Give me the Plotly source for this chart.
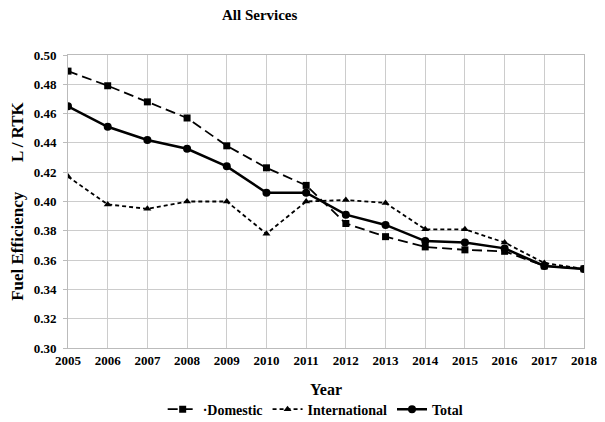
import plotly.graph_objects as go

years = [2005, 2006, 2007, 2008, 2009, 2010, 2011, 2012, 2013, 2014, 2015, 2016, 2017, 2018]
domestic = [0.489, 0.479, 0.468, 0.457, 0.438, 0.423, 0.411, 0.385, 0.376, 0.369, 0.367, 0.366, 0.356, 0.354]
international = [0.417, 0.398, 0.395, 0.400, 0.400, 0.378, 0.400, 0.401, 0.399, 0.381, 0.381, 0.372, 0.358, 0.354]
total = [0.465, 0.451, 0.442, 0.436, 0.424, 0.406, 0.406, 0.391, 0.384, 0.373, 0.372, 0.368, 0.356, 0.354]
y_ticks = [0.30, 0.32, 0.34, 0.36, 0.38, 0.40, 0.42, 0.44, 0.46, 0.48, 0.50]

FONT = "Liberation Serif"

fig = go.Figure()
fig.add_trace(go.Scatter(x=years, y=domestic, name="<b>·Domestic</b>", mode="lines+markers",
                         line=dict(color="black", width=1.8, dash="10px,5px"),
                         marker=dict(symbol="square", size=7, color="black")))
fig.add_trace(go.Scatter(x=years, y=international, name="<b>International</b>", mode="lines+markers",
                         line=dict(color="black", width=1.8, dash="4px,3px"),
                         marker=dict(symbol="triangle-up", size=7, color="black")))
fig.add_trace(go.Scatter(x=years, y=total, name="<b>Total</b>", mode="lines+markers",
                         line=dict(color="black", width=2.5),
                         marker=dict(symbol="circle", size=8, color="black")))

# page has an 8px body margin, so the figure is sized/offset to compensate
fig.update_layout(
    width=605, height=414,
    margin=dict(l=60, r=29, t=47, b=74, autoexpand=False),
    paper_bgcolor="white", plot_bgcolor="white",
    font=dict(family=FONT, color="black", size=13),
    title=dict(text="<b>All Services</b>", x=0.416, xanchor="center", y=0.983, yanchor="middle",
               font=dict(family=FONT, size=15, color="black")),
    xaxis=dict(range=[2005, 2018], tickmode="array", tickvals=years,
               ticktext=[f"<b>{y}</b>" for y in years],
               showgrid=True, gridcolor="#cccccc", gridwidth=1, automargin=False,
               showline=True, linecolor="#bbbbbb", mirror=True, zeroline=False,
               ticks="", tickfont=dict(family=FONT, size=13),
               title=dict(text="<b>Year</b>", font=dict(family=FONT, size=16), standoff=17)),
    yaxis=dict(range=[0.30, 0.50], tickmode="array", tickvals=y_ticks,
               ticktext=[f"<b>{v:.2f}</b>" for v in y_ticks],
               showgrid=True, gridcolor="#cccccc", gridwidth=1, automargin=False,
               showline=True, linecolor="#bbbbbb", mirror=True, zeroline=False,
               ticks="outside", ticklen=4, tickcolor="#bbbbbb", ticklabelstandoff=4,
               tickfont=dict(family=FONT, size=13),
               title=dict(text="<b>Fuel Efficiency       L / RTK</b>", font=dict(family=FONT, size=17), standoff=10)),
    legend=dict(orientation="h", x=0.48, xanchor="center", y=-0.21, yanchor="middle",
                font=dict(family=FONT, size=14), itemwidth=30, tracegroupgap=0,
                bgcolor="rgba(0,0,0,0)"),
)

fig.write_html("out.html")
